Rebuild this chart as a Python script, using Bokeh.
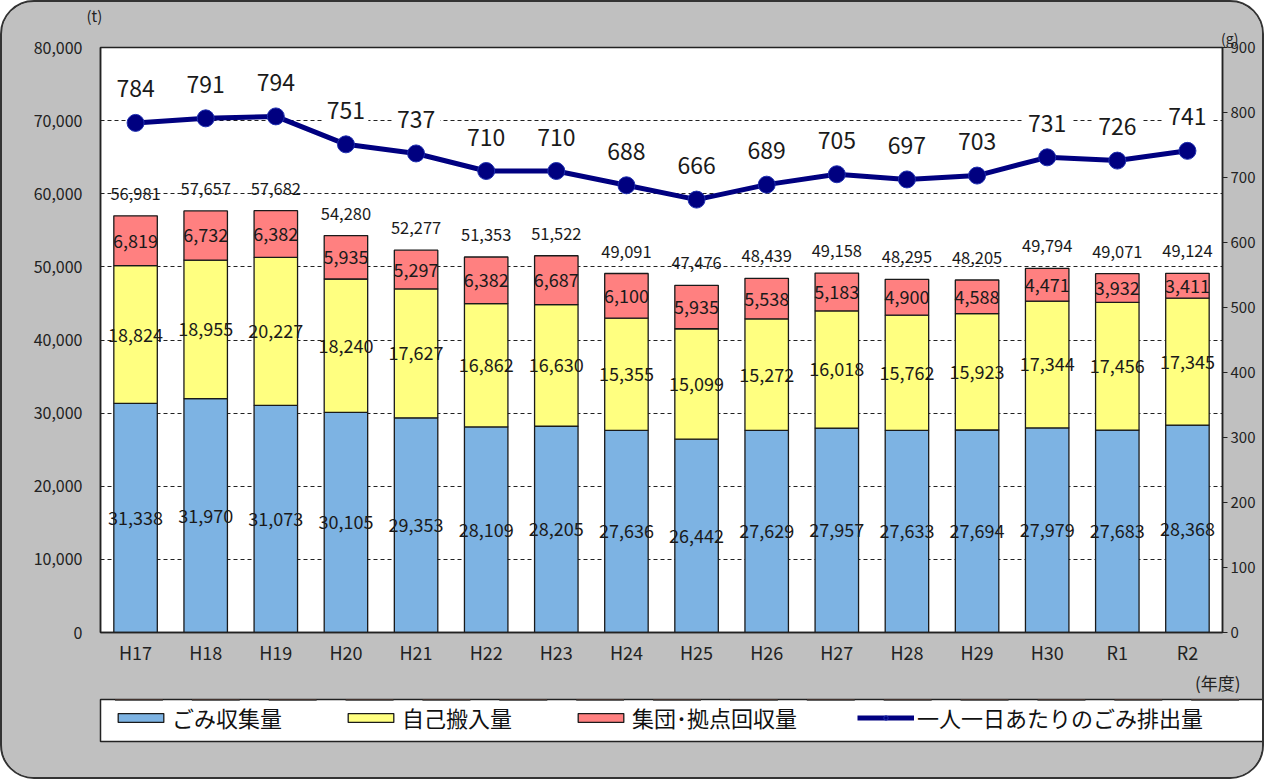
from bokeh.plotting import figure
from bokeh.layouts import column
from bokeh.models import (ColumnDataSource, Range1d, FactorRange, LinearAxis, SingleIntervalTicker,
                          NumeralTickFormatter, LabelSet, Title, Legend, LegendItem)
from bokeh.core.properties import value
from bokeh.embed import file_html
from bokeh.resources import INLINE

years = ["H17", "H18", "H19", "H20", "H21", "H22", "H23", "H24", "H25", "H26",
         "H27", "H28", "H29", "H30", "R1", "R2"]
collected = [31338, 31970, 31073, 30105, 29353, 28109, 28205, 27636, 26442, 27629,
             27957, 27633, 27694, 27979, 27683, 28368]
self_brought = [18824, 18955, 20227, 18240, 17627, 16862, 16630, 15355, 15099, 15272,
                16018, 15762, 15923, 17344, 17456, 17345]
group_recycled = [6819, 6732, 6382, 5935, 5297, 6382, 6687, 6100, 5935, 5538,
                  5183, 4900, 4588, 4471, 3932, 3411]
totals = [56981, 57657, 57682, 54280, 52277, 51353, 51522, 49091, 47476, 48439,
          49158, 48295, 48205, 49794, 49071, 49124]
per_person = [784, 791, 794, 751, 737, 710, 710, 688, 666, 689, 705, 697, 703, 731, 726, 741]

series_names = ["ごみ収集量", "自己搬入量", "集団･拠点回収量", "一人一日あたりのごみ排出量"]

FONT = "Noto Sans CJK JP"
GRAY = "#c0c0c0"
BLUE = "#7db3e3"
YELLOW = "#ffff80"
RED = "#ff8080"
NAVY = "#000080"
INK = "#222222"

def fmt(v):
    return f"{v:,}"

b0 = [0] * len(years)
b1 = collected
b2 = [a + b for a, b in zip(collected, self_brought)]
b3 = [a + b for a, b in zip(b2, group_recycled)]

src = ColumnDataSource(dict(
    x=years,
    c0=b0, c1=b1, c2=b2, c3=b3,
    m1=[(a + b) / 2 for a, b in zip(b0, b1)],
    m2=[(a + b) / 2 for a, b in zip(b1, b2)],
    m3=[(a + b) / 2 for a, b in zip(b2, b3)],
    t1=[fmt(v) for v in collected],
    t2=[fmt(v) for v in self_brought],
    t3=[fmt(v) for v in group_recycled],
    tot=totals,
    ttot=[fmt(v) for v in totals],
    g=per_person,
    tg=[str(v) for v in per_person],
))

# ---------------- main chart ----------------
p = figure(x_range=years, y_range=Range1d(0, 80000),
           frame_width=1122, frame_height=585,
           min_border_left=98, min_border_right=40, min_border_top=45, min_border_bottom=50,
           output_backend="svg", toolbar_location=None,
           background_fill_color="white", border_fill_color=GRAY,
           outline_line_color=INK, outline_line_width=1.5)
p.x_range.range_padding = 0
p.extra_y_ranges = {"g": Range1d(0, 900)}

W = 0.62
bar_line = dict(line_color="#1a1a1a", line_width=1.3)
p.vbar(x="x", bottom="c0", top="c1", width=W, source=src, fill_color=BLUE, **bar_line)
p.vbar(x="x", bottom="c1", top="c2", width=W, source=src, fill_color=YELLOW, **bar_line)
p.vbar(x="x", bottom="c2", top="c3", width=W, source=src, fill_color=RED, **bar_line)

p.line(x="x", y="g", source=src, y_range_name="g", line_color=NAVY, line_width=5)
p.scatter(x="x", y="g", source=src, y_range_name="g", size=17, fill_color=NAVY,
          line_color="#2030b0", line_width=1)

lab_style = dict(text_font=value(FONT), text_color="#1a1a1a", text_align="center",
                 text_baseline="middle", source=src)
for ycol, tcol in (("m1", "t1"), ("m2", "t2"), ("m3", "t3")):
    p.add_layout(LabelSet(x="x", y=ycol, text=tcol, text_font_size="18px", **lab_style))
p.add_layout(LabelSet(x="x", y="tot", text="ttot", text_font_size="16.5px", y_offset=22,
                      **lab_style))
p.add_layout(LabelSet(x="x", y="g", text="tg", y_range_name="g", text_font_size="23px",
                      y_offset=34, background_fill_color="white",
                      border_line_color="white", border_line_width=10,
                      **lab_style))

p.yaxis.ticker = SingleIntervalTicker(interval=10000)
p.yaxis.formatter = NumeralTickFormatter(format="0,0")
p.yaxis.major_tick_line_color = None
p.yaxis.minor_tick_line_color = None
p.yaxis.axis_line_color = INK
p.yaxis.axis_line_width = 1.5
p.yaxis.major_label_text_font = FONT
p.yaxis.major_label_text_font_size = "16px"
p.yaxis.major_label_text_color = INK
p.yaxis.major_label_standoff = 12

ax_r = LinearAxis(y_range_name="g", ticker=SingleIntervalTicker(interval=100))
ax_r.major_tick_out = 5
ax_r.major_tick_in = 0
ax_r.minor_tick_line_color = None
ax_r.major_tick_line_color = INK
ax_r.axis_line_color = INK
ax_r.axis_line_width = 1.5
ax_r.major_label_text_font = FONT
ax_r.major_label_text_font_size = "15px"
ax_r.major_label_text_color = INK
ax_r.major_label_standoff = 3
p.add_layout(ax_r, "right")

p.xaxis.major_tick_line_color = None
p.xaxis.major_tick_out = 0
p.xaxis.major_tick_in = 0
p.xaxis.axis_line_color = INK
p.xaxis.axis_line_width = 1.5
p.xaxis.major_label_text_font = FONT
p.xaxis.major_label_text_font_size = "18px"
p.xaxis.major_label_text_color = INK
p.xaxis.major_label_standoff = 6

p.xgrid.grid_line_color = None
p.ygrid.grid_line_color = INK
p.ygrid.grid_line_dash = "4 3"
p.ygrid.grid_line_width = 1

title_style = dict(text_font=FONT, text_font_style="normal", text_color=INK)
p.add_layout(Title(text="(g)", align="right", offset=-16, standoff=0,
                   text_font_size="14px", **title_style), "above")
p.add_layout(Title(text="(t)", align="left", offset=-14, standoff=0,
                   text_font_size="15px", **title_style), "above")
p.add_layout(Title(text="(年度)", align="right", offset=-18, standoff=0,
                   text_font_size="17px", **title_style), "below")

# ---------------- legend strip ----------------
# Same data, drawn outside this strip's visible y-range, so only the legend shows.
q = figure(x_range=FactorRange(*years), y_range=Range1d(-2, -1),
           frame_width=1230, frame_height=42,
           min_border_left=18, min_border_right=12, min_border_top=5, min_border_bottom=36,
           x_axis_location=None, y_axis_location=None,
           output_backend="svg", toolbar_location=None,
           background_fill_color="white", border_fill_color=GRAY,
           outline_line_color=INK, outline_line_width=1.5)
q.grid.grid_line_color = None
l1 = q.vbar(x="x", bottom="c0", top="c1", width=W, source=src, fill_color=BLUE, **bar_line)
l2 = q.vbar(x="x", bottom="c1", top="c2", width=W, source=src, fill_color=YELLOW, **bar_line)
l3 = q.vbar(x="x", bottom="c2", top="c3", width=W, source=src, fill_color=RED, **bar_line)
l4 = q.line(x="x", y="g", source=src, line_color=NAVY, line_width=5)
l5 = q.scatter(x="x", y="g", source=src, size=8, fill_color=NAVY, line_color="#2030b0")

legend = Legend(items=[
    LegendItem(label=series_names[0], renderers=[l1]),
    LegendItem(label=series_names[1], renderers=[l2]),
    LegendItem(label=series_names[2], renderers=[l3]),
    LegendItem(label=series_names[3], renderers=[l4, l5]),
], orientation="horizontal", location=(100, 8),
    background_fill_alpha=0, border_line_alpha=0,
    padding=0, margin=0, spacing=60,
    glyph_width=57, glyph_height=11, label_standoff=3, label_width=0,
    label_text_font=FONT, label_text_font_size="22px", label_text_color="#111111")
q.add_layout(legend, "center")

layout = column(p, q, spacing=0,
                styles={"border": "2px solid #333333", "border-radius": "34px",
                        "overflow": "hidden", "background-color": GRAY})

open("out.html", "w").write(file_html(layout, INLINE))
